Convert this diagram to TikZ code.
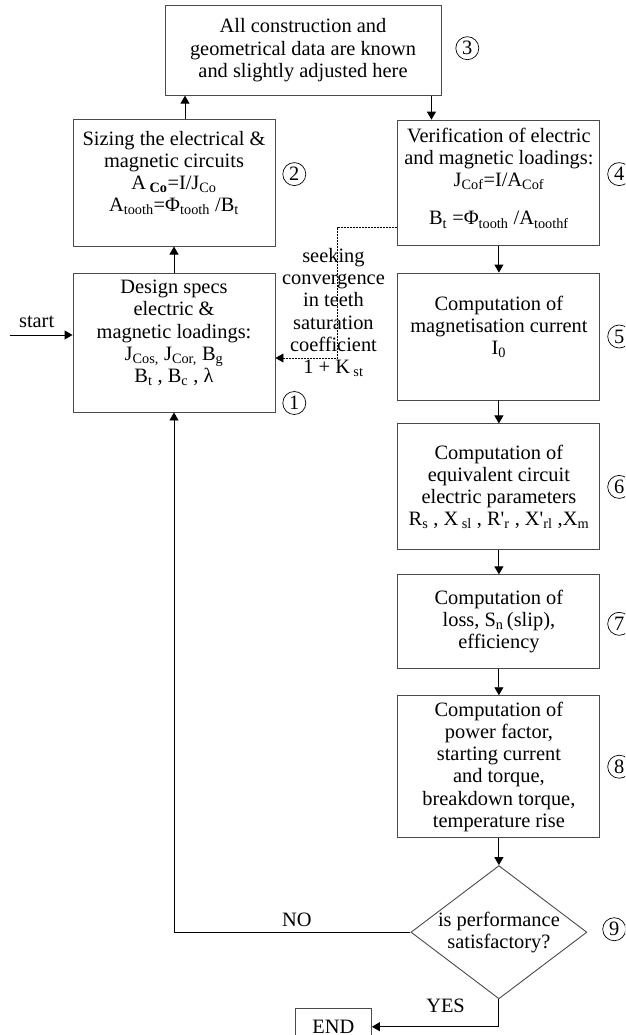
\documentclass[tikz,border=0pt]{standalone}
\usepackage{fontspec}
\setmainfont{Liberation Serif}
\usetikzlibrary{arrows.meta,positioning,shapes.geometric}
\definecolor{ink}{HTML}{000000}
\definecolor{rulegray}{HTML}{4A4A4A}

\begin{document}
\begin{tikzpicture}[x=1pt,y=-1pt,every node/.style={font=\fontsize{20.4}{22.2}\selectfont},box/.style={draw=rulegray,line width=.9pt,align=center,minimum width=202pt,inner sep=2pt},arr/.style={-{Triangle[length=8pt,width=9pt]},line width=.9pt,draw=ink},fb/.style={arr,dash pattern=on 2pt off 1pt,line width=.6pt},num/.style={circle,draw=ink,line width=.7pt,inner sep=0pt,minimum size=23pt},lbl/.style={align=center,inner sep=0pt}]
\useasboundingbox (0,0) rectangle (625,1035);
\clip (0,0) rectangle (625,1035);
% left column
\node[box,minimum height=139pt] (v1) at (174,342.5) {Design specs\\electric \&\\magnetic loadings:\\J\textsubscript{Cos,} J\textsubscript{Cor,} B\textsubscript{g}\\B\textsubscript{t} , B\textsubscript{c} , λ\\~};
\node[box,minimum height=127pt,above=26pt of v1] (v2) {Sizing the electrical \&\\magnetic circuits\\A\,\textsubscript{\textbf{Co}}=I/J\textsubscript{Co}\\A\textsubscript{tooth}=Φ\textsubscript{tooth} /B\textsubscript{t}\\~};
\node[box,minimum width=276pt,minimum height=90pt,above=23pt of v2,xshift=129pt] (v3) {All construction and\\geometrical data are known\\and slightly adjusted here};
% right column
\node[box,minimum height=125pt,right=122pt of v2] (v4) {Verification of electric\\and magnetic loadings:\\J\textsubscript{Cof}=I/A\textsubscript{Cof}\\[16pt]B\textsubscript{t} =Φ\textsubscript{tooth} /A\textsubscript{toothf}\\[-10pt]~};
\node[box,minimum height=127pt,below=27pt of v4] (v5) {Computation of\\magnetisation current\\I\textsubscript{0}\\~};
\node[box,minimum height=126pt,below=23pt of v5] (v6) {Computation of\\equivalent circuit\\electric parameters\\R\textsubscript{s} , X\,\textsubscript{sl} , R\textquotesingle\textsubscript{r} , X\textquotesingle\textsubscript{rl} ,X\textsubscript{m}};
\node[box,minimum height=94pt,below=24pt of v6] (v7) {Computation of\\loss, S\textsubscript{n}\,(slip),\\efficiency};
\node[box,minimum height=142pt,below=26pt of v7] (v8) {Computation of\\power factor,\\starting current\\and torque,\\breakdown torque,\\temperature rise};
\node[diamond,draw=rulegray,line width=.9pt,aspect=1.32,minimum width=176pt,minimum height=133pt,inner sep=0pt,align=center,below=27pt of v8] (dec) {is performance\\satisfactory?};
\node[box,minimum width=76pt,minimum height=36pt,below left=9pt and 127pt of dec.south] (fin) {END};
% step numbers
\node[num,right=7pt of v1,yshift=-60.5pt] (n1) {1};
\node[num,right=7pt of v2,yshift=8.5pt] (n2) {2};
\node[num,right=14pt of v3,yshift=2pt] (n3) {3};
\node[num,right=7pt of v4,yshift=8.5pt] (n4) {4};
\node[num,right=7pt of v5] (n5) {5};
\node[num,right=7pt of v6] (n6) {6};
\node[num,right=7pt of v7,yshift=-2pt] (n7) {7};
\node[num,right=7pt of v8] (n8) {8};
\node[num,right=15pt of dec,yshift=3pt] (n9) {9};
% flow
\coordinate[left=63pt of v1.west,yshift=7.5pt] (st);
\draw[arr] (st) -- node[above=4pt,pos=.43] {start} ([yshift=7.5pt]v1.west);
\draw[arr] (v1) -- (v2);
\draw[arr] ([xshift=11pt]v2.north) -- ([xshift=11pt]v2.north |- v3.south);
\draw[arr] ([xshift=34pt]v4.north west |- v3.south) -- ([xshift=34pt]v4.north west);
\draw[arr] (v4) -- (v5);\draw[arr] (v5) -- (v6);\draw[arr] (v6) -- (v7);\draw[arr] (v7) -- (v8);\draw[arr] (v8) -- (dec);
\draw[arr] (dec.west) -| node[above=2pt,pos=.24] {NO} (v1.south);
\draw[arr] (dec.south) |- node[above=10pt,pos=.71] {YES} (fin.east);
% saturation loop back to the specs
\coordinate (fbk) at ([xshift=62pt,yshift=-15.5pt]v1.east);
\draw[fb] ([yshift=18pt]v4.south west) -| (fbk) -- ([yshift=-15.5pt]v1.east);
\node[lbl] (conv) at ([xshift=58pt,yshift=30pt]v1.east) {seeking\\convergence\\in teeth\\saturation\\coefficient\\1 + K\,\textsubscript{st}};
\end{tikzpicture}
\end{document}
